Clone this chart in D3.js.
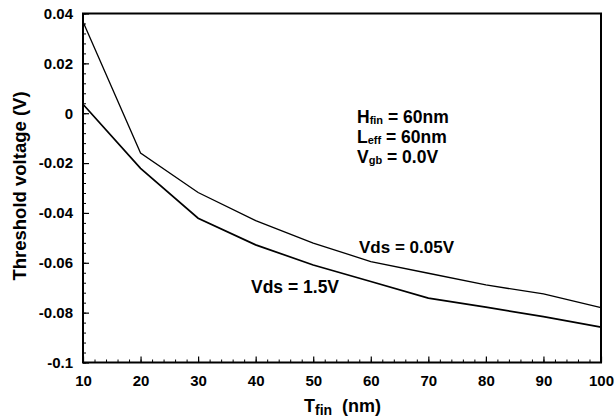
<!DOCTYPE html>
<html>
<head>
<meta charset="utf-8">
<script src="https://cdn.jsdelivr.net/npm/d3@7"></script>
<style>
  body { margin: 0; background: #fff; }
  svg text { font-family: "Liberation Sans", Arial, sans-serif; font-weight: bold; fill: #000; }
</style>
</head>
<body>
<svg id="chart" width="615" height="420"></svg>
<script>
// data
const tfin = [10, 20, 30, 40, 50, 60, 70, 80, 90, 100];
const vtVds005 = [0.0367, -0.016, -0.0318, -0.0431, -0.0521, -0.0595, -0.0642, -0.0689, -0.0725, -0.078];
const vtVds15 = [0.0036, -0.0221, -0.0421, -0.0528, -0.0609, -0.0675, -0.0742, -0.0778, -0.0816, -0.0858];
const xTicks = [10, 20, 30, 40, 50, 60, 70, 80, 90, 100];
const yTicks = [0.04, 0.02, 0, -0.02, -0.04, -0.06, -0.08, -0.1];

const margin = { top: 13.5, right: 14, bottom: 57.5, left: 83 };
const width = 615 - margin.left - margin.right;
const height = 420 - margin.top - margin.bottom;

const svg = d3.select('#chart');
const g = svg.append('g').attr('transform', `translate(${margin.left},${margin.top})`);

const x = d3.scaleLinear().domain([10, 100]).range([0, width]);
const y = d3.scaleLinear().domain([-0.1, 0.04]).range([height, 0]);

// minor ticks
g.append('g')
  .attr('transform', `translate(0,${height})`)
  .call(d3.axisBottom(x).tickValues(d3.range(10, 100.1, 2)).tickFormat('').tickSize(-3).tickSizeOuter(0))
  .call(a => a.select('.domain').remove());
g.append('g')
  .call(d3.axisLeft(y).tickValues(d3.range(-0.1, 0.0401, 0.004)).tickFormat('').tickSize(-3).tickSizeOuter(0))
  .call(a => a.select('.domain').remove());

// major ticks + labels
const xAxis = g.append('g')
  .attr('transform', `translate(0,${height})`)
  .call(d3.axisBottom(x).tickValues(xTicks).tickSize(-6).tickSizeOuter(0).tickPadding(13));
const yAxis = g.append('g')
  .call(d3.axisLeft(y).tickValues(yTicks).tickFormat(d => String(+d.toFixed(2))).tickSize(-6).tickSizeOuter(0).tickPadding(10));

[xAxis, yAxis].forEach(a => {
  a.select('.domain').remove();
  a.selectAll('text').style('font-size', '15px');
  a.selectAll('line').attr('stroke-width', 1.2);
});
g.selectAll('.tick line').attr('stroke', '#000');

// frame
g.append('rect')
  .attr('width', width).attr('height', height)
  .attr('fill', 'none').attr('stroke', '#000').attr('stroke-width', 2);

const line = d3.line().x(d => x(d[0])).y(d => y(d[1]));

g.append('path')
  .datum(tfin.map((t, i) => [t, vtVds005[i]]))
  .attr('d', line).attr('fill', 'none').attr('stroke', '#000').attr('stroke-width', 1.3);

g.append('path')
  .datum(tfin.map((t, i) => [t, vtVds15[i]]))
  .attr('d', line).attr('fill', 'none').attr('stroke', '#000').attr('stroke-width', 1.7);

// annotations
const note = [['H', 'fin', ' = 60nm'], ['L', 'eff', ' = 60nm'], ['V', 'gb', ' = 0.0V']];
note.forEach((n, i) => {
  const t = svg.append('text').attr('x', 357).attr('y', 123 + i * 20).style('font-size', '17.5px');
  t.append('tspan').text(n[0]);
  t.append('tspan').text(n[1]).style('font-size', '11px').attr('dy', 1);
  t.append('tspan').text(n[2]).attr('dy', -1);
});

svg.append('text').attr('x', 359).attr('y', 253).style('font-size', '17px').text('Vds = 0.05V');
svg.append('text').attr('x', 251).attr('y', 293).style('font-size', '17.5px').text('Vds = 1.5V');

// axis titles
const xt = svg.append('text').attr('x', 304).attr('y', 412).style('font-size', '18px');
xt.append('tspan').text('T');
xt.append('tspan').text('fin').style('font-size', '14px').attr('dy', 3);
xt.append('tspan').text('\u00a0\u00a0(nm)').attr('dy', -3);

svg.append('text')
  .attr('transform', 'translate(26,186) rotate(-90)')
  .attr('text-anchor', 'middle')
  .style('font-size', '18.5px')
  .text('Threshold voltage (V)');
</script>
</body>
</html>
